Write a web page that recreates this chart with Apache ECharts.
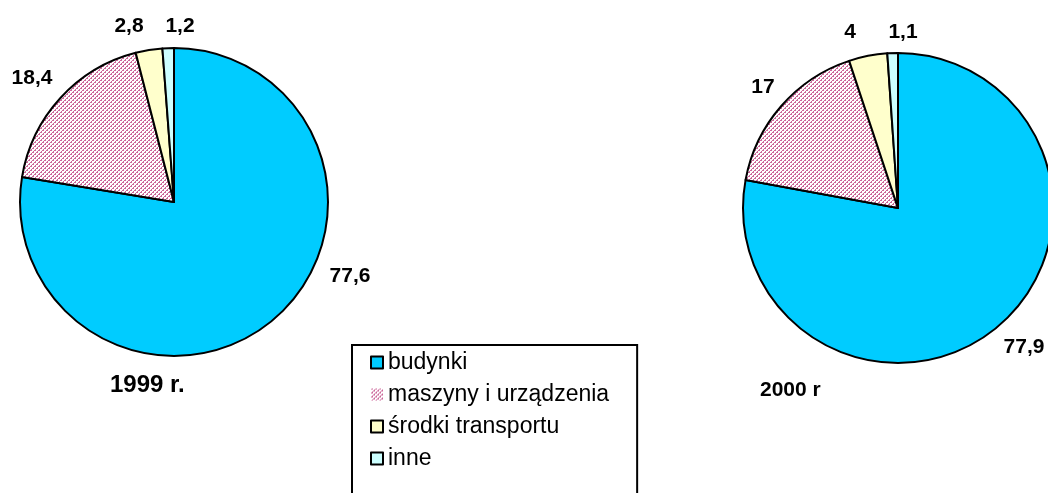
<!DOCTYPE html>
<html><head><meta charset="utf-8">
<script src="https://cdn.jsdelivr.net/npm/echarts@6/dist/echarts.min.js"></script>
<style>html,body{margin:0;padding:0;background:#fff}#c{width:1048px;height:493px}</style>
</head><body><div id="c"></div>
<script>
// ---- data ----
const categories = ['budynki', 'maszyny i urządzenia', 'środki transportu', 'inne'];
const values1999 = [77.6, 18.4, 2.8, 1.2];
const values2000 = [77.9, 17, 4, 1.1];
const yearTitles = ['1999 r.', '2000 r'];

// ---- style / layout config ----
const sliceColors = ['#00CCFF', null, '#FFFFCC', '#CCFFFF'];
const labelPos1999 = [[350, 276], [32, 78], [129, 26], [180, 26]];
const labelPos2000 = [[1024, 347], [763, 87], [850, 32], [903, 32]];
const FONT = '"Liberation Sans", Arial, sans-serif';

function hatchCanvas() {
  const c = document.createElement('canvas');
  c.width = 4; c.height = 4;
  const g = c.getContext('2d');
  g.fillStyle = '#ffffff'; g.fillRect(0, 0, 4, 4);
  g.fillStyle = '#cc6699';
  for (let y = 0; y < 4; y++) for (let x = 0; x < 4; x++) {
    const d = (x + y) % 4;
    if (d === 0 || (d === 1 && y % 2 === 0)) g.fillRect(x, y, 1, 1);
  }
  return c;
}
const hatch = { image: hatchCanvas(), repeat: 'repeat' };

function buildData(vals) {
  return categories.map((name, i) => ({
    name: name,
    value: vals[i],
    itemStyle: { color: sliceColors[i] || hatch }
  }));
}

function pieSeries(vals, center, radius, pos) {
  return {
    type: 'pie',
    center: center,
    radius: radius,
    startAngle: 90,
    clockwise: true,
    avoidLabelOverlap: false,
    silent: true,
    animation: false,
    itemStyle: { borderColor: '#000', borderWidth: 2 },
    label: {
      show: true,
      formatter: p => String(p.value).replace('.', ','),
      fontFamily: FONT, fontSize: 21, fontWeight: 'bold', color: '#000'
    },
    labelLine: { show: false },
    labelLayout: p => ({ x: pos[p.dataIndex][0], y: pos[p.dataIndex][1], align: 'center', verticalAlign: 'middle' }),
    data: buildData(vals)
  };
}

const chart = echarts.init(document.getElementById('c'), null, { renderer: 'canvas' });
chart.setOption({
  backgroundColor: '#ffffff',
  animation: false,
  title: [
    { text: yearTitles[0], left: 110, top: 373, padding: 0,
      textStyle: { fontFamily: FONT, fontSize: 24, fontWeight: 'bold', color: '#000' } },
    { text: yearTitles[1], left: 760, top: 380, padding: 0,
      textStyle: { fontFamily: FONT, fontSize: 21, fontWeight: 'bold', color: '#000' } }
  ],
  legend: {
    orient: 'vertical',
    left: 352, top: 345,
    height: 300,
    icon: 'rect',
    itemWidth: 12, itemHeight: 12,
    itemGap: 9,
    borderColor: '#000', borderWidth: 2,
    padding: [6, 28, 40, 18],
    selectedMode: false,
    textStyle: { fontFamily: FONT, fontSize: 23, color: '#000', lineHeight: 22 },
    data: categories.map((n, i) => i === 1 ? { name: n, itemStyle: { borderWidth: 0 } } : n)
  },
  series: [
    pieSeries(values1999, [174, 202], 154, labelPos1999),
    pieSeries(values2000, [898, 208], 155, labelPos2000)
  ]
});
</script>
</body></html>
